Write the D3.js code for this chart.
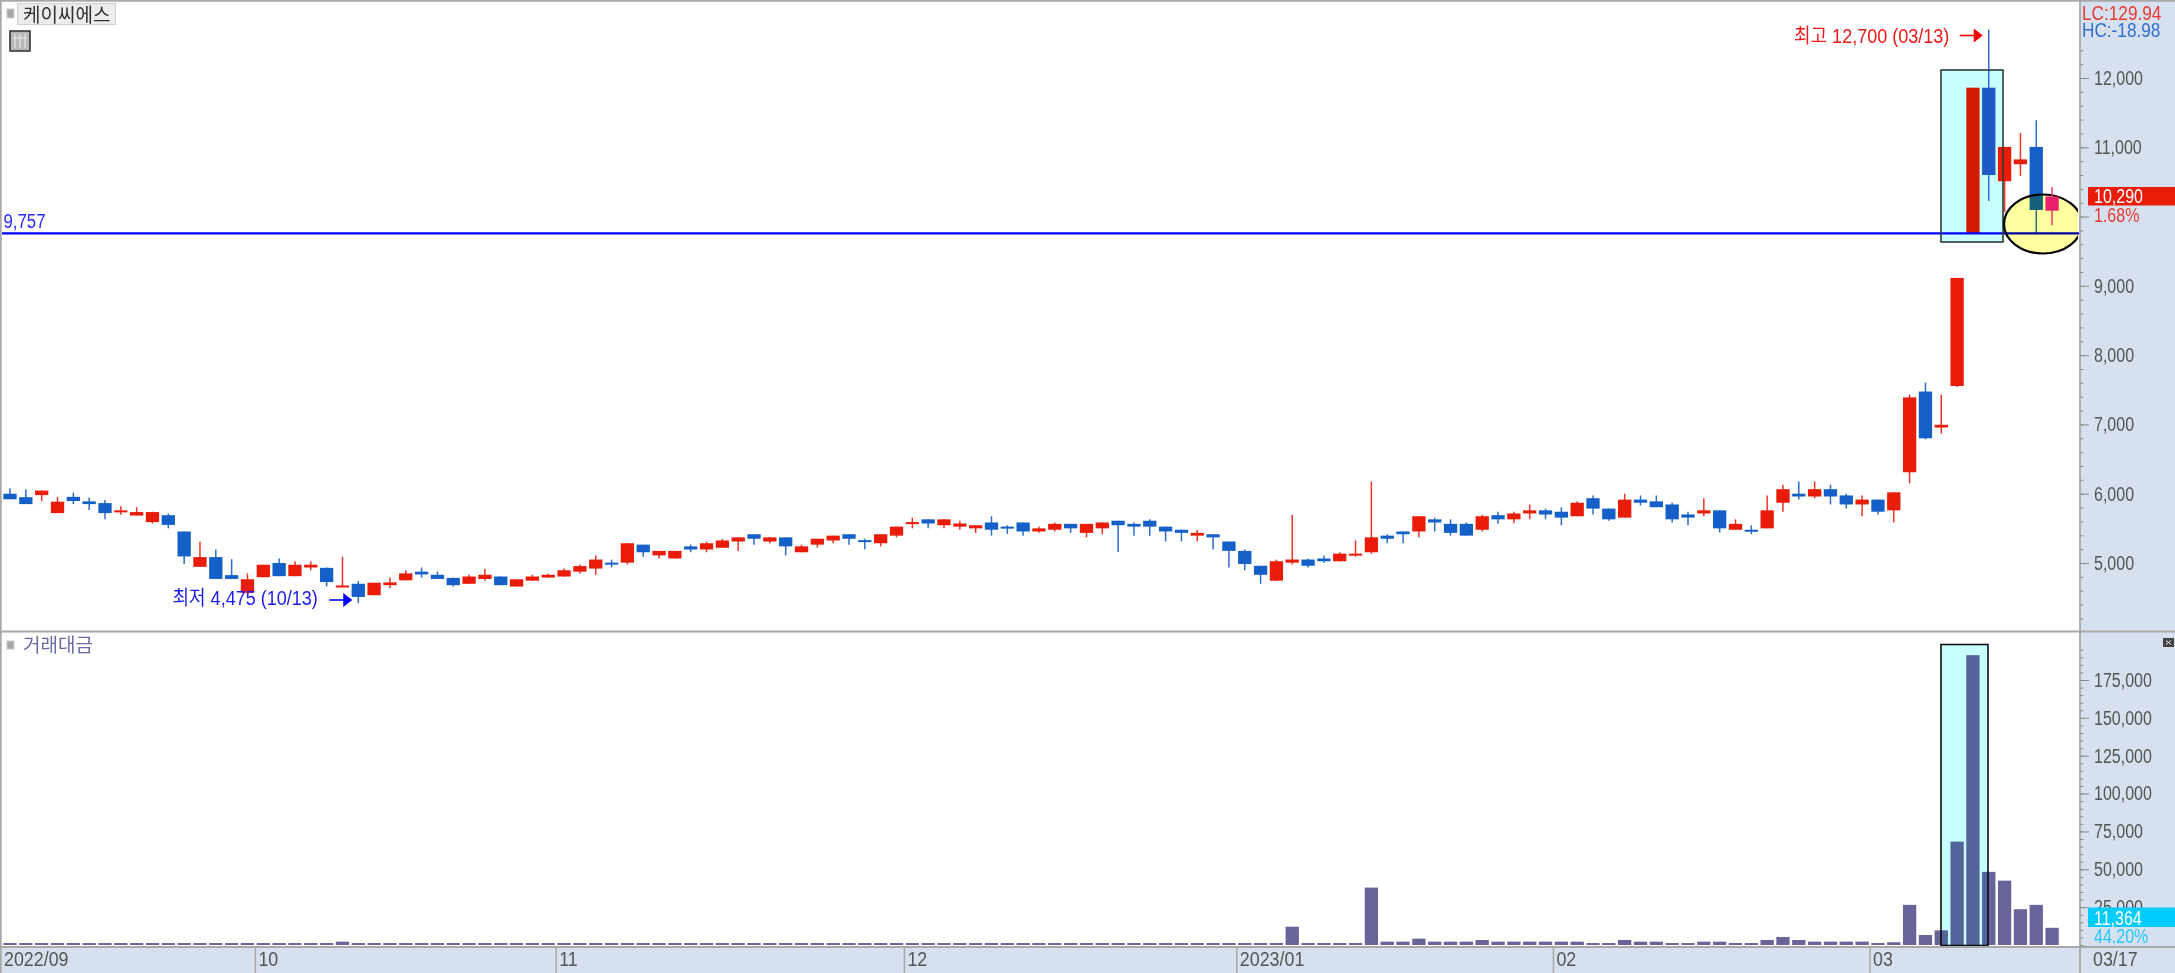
<!DOCTYPE html>
<html lang="ko">
<head>
<meta charset="utf-8">
<title>케이씨에스</title>
<script src="https://cdnjs.cloudflare.com/ajax/libs/d3/7.8.5/d3.min.js"></script>
<style>
html, body { margin: 0; padding: 0; background: #fff; overflow: hidden; }
text { font-family: "Liberation Sans", "Noto Sans CJK KR", sans-serif; font-size: 20px; }
.hangul { font-family: "Noto Sans CJK KR", sans-serif; font-size: 19px; }
.axis text { fill: #555; }
.axis line { stroke: #8c8c8c; }
.axis path { display: none; }
</style>
</head>
<body>
<div id="chart"></div>
<script>
var opens = [6000,5950,5980,5720,5955,5890,5865,5740,5685,5590,5690,5455,4945,5085,4825,4570,4795,5000,4810,4935,4930,4660,4700,4535,4680,4750,4875,4830,4785,4700,4770,4805,4660,4745,4790,4805,4875,4920,5005,5005,5265,5110,5065,5240,5195,5220,5310,5415,5310,5370,5155,5265,5325,5415,5330,5285,5395,5570,5630,5545,5525,5500,5585,5525,5585,5455,5480,5565,5435,5500,5610,5565,5610,5525,5480,5395,5415,5310,5175,4960,4745,5005,5050,5065,5025,5110,5155,5395,5455,5455,5630,5565,5565,5480,5690,5630,5715,5760,5740,5675,5935,5785,5655,5915,5890,5845,5700,5715,5760,5480,5480,5500,5870,6000,5960,6065,5975,5845,5915,5760,6310,7475,6955,7555,9760,11860,10510,10755,11005,10085]
var highs = [6080,6065,6045,5955,6015,5945,5910,5820,5805,5740,5715,5455,5310,5195,5055,4850,4975,5065,5025,5025,4935,5090,4740,4715,4790,4895,4935,4875,4790,4830,4917,4805,4765,4830,4850,4920,4980,5110,5050,5285,5265,5175,5175,5265,5310,5350,5370,5415,5370,5370,5265,5350,5395,5415,5350,5415,5525,5655,5630,5630,5610,5545,5675,5545,5585,5525,5585,5565,5565,5585,5610,5585,5630,5525,5480,5480,5415,5310,5195,4960,5050,5695,5065,5110,5155,5325,6175,5415,5455,5675,5655,5630,5585,5695,5740,5740,5845,5785,5805,5890,5975,5785,6000,5975,5975,5870,5740,5935,5760,5630,5545,5975,6130,6175,6175,6130,6000,5975,5915,6020,7430,7605,7430,9115,11860,12700,11005,11205,11390,10425]
var lows = [5920,5850,5895,5720,5850,5765,5630,5695,5685,5570,5500,4985,4945,4770,4770,4550,4795,4810,4810,4895,4660,4660,4420,4535,4635,4750,4790,4770,4660,4700,4745,4680,4660,4745,4790,4805,4850,4830,4935,4980,5090,5065,5065,5155,5155,5220,5175,5265,5285,5110,5155,5220,5285,5265,5195,5240,5370,5500,5500,5500,5480,5435,5395,5420,5395,5435,5455,5435,5370,5415,5160,5395,5395,5310,5310,5310,5195,4935,4895,4700,4745,4980,4935,5005,5025,5090,5135,5285,5285,5370,5455,5395,5395,5455,5565,5575,5630,5630,5545,5675,5700,5610,5655,5830,5805,5585,5545,5675,5440,5480,5415,5500,5740,5915,5935,5845,5785,5675,5700,5585,6150,6785,6870,7540,9760,10225,10065,10585,9760,9875]
var closes = [5920,5850,6045,5885,5895,5850,5720,5760,5735,5735,5550,5095,5085,4770,4770,4765,4975,4810,4975,4975,4725,4675,4510,4715,4720,4850,4835,4770,4680,4805,4830,4680,4765,4805,4830,4895,4955,5050,4980,5285,5155,5175,5175,5195,5285,5325,5370,5350,5370,5240,5240,5350,5395,5350,5310,5415,5525,5590,5570,5630,5570,5545,5480,5500,5455,5500,5565,5500,5565,5585,5545,5525,5525,5455,5435,5435,5370,5175,4985,4830,5025,5050,4960,5025,5135,5135,5370,5350,5415,5675,5585,5435,5395,5675,5630,5715,5760,5700,5655,5870,5785,5630,5915,5870,5805,5630,5655,5760,5500,5565,5460,5760,6065,5960,6065,5960,5845,5915,5740,6020,7390,6800,6995,9115,11860,10600,11005,10825,10095,10290]
var volumes = [1300,1300,1300,1300,1300,1300,1300,1300,1300,1300,1300,1300,1300,1300,1300,1300,1300,1300,1300,1300,1300,2200,1300,1300,1300,1300,1300,1300,1300,1300,1300,1300,1300,1300,1300,1300,1300,1300,1300,1300,1300,1300,1300,1300,1300,1300,1300,1300,1300,1300,1300,1300,1300,1300,1300,1300,1300,1300,1300,1300,1300,1300,1300,1300,1300,1300,1300,1300,1300,1300,1300,1300,1300,1300,1300,1300,1300,1300,1300,1300,1300,12100,1300,1300,1300,1300,37900,2200,2200,4200,2200,2200,2200,3300,2200,2200,2200,2200,2200,2200,1300,1300,3300,2200,2200,1300,1300,2200,2200,1300,1300,3300,5300,3300,2200,2200,2200,2200,1300,1800,26500,6600,9700,68300,191400,48300,42500,23600,26500,11364]

// 10,000 자리는 현재가 표시에 가려져 글자가 없다
var priceTicks = [5000,6000,7000,8000,9000,11000,12000]
var priceMinor = d3.range(4200, 12600, 200)
var volumeTicks = [25000,50000,75000,100000,125000,150000,175000]
var volumeMinor = d3.range(0, 200000, 5000)
var monthLabels = ["10","11","12","2023/01","02","03"]
var monthStarts = [16,35,57,78,98,118]
var firstLabel = "2022/09"
var lastLabel = "03/17"

var stockName = "케이씨에스"
var volumeName = "거래대금"
var levelPrice = 9757
var lowIndex = 22, highIndex = 125, lastIndex = 129

var width = 2175, height = 973
var plotRight = 2080, panelGap = 631.5, dateTop = 947

var svg = d3.select("#chart").append("svg")
    .attr("width", width).attr("height", height)
    .style("display", "block")

var xScale = d3.scaleBand()
    .domain(d3.range(opens.length))
    .range([2.1, 2060])
    .paddingInner(0.16)
    .paddingOuter(0.08)

var yPrice = d3.scaleLinear().domain([5000, 12000]).range([563, 78])
var yVolume = d3.scaleLinear().domain([0, 175000]).range([945, 680])

function center(i) {
    return xScale(i) + xScale.bandwidth() / 2
}

function isUp(i) {
    return closes[i] >= opens[i]
}

function candleColor(i) {
    if (i == lastIndex) return "#e8206c"
    if (i == 124) return "#d21a04"
    if (i == 125) return "#2058c8"
    return isUp(i) ? "#e81c08" : "#1460c8"
}

function wickColor(i) {
    if (i == lastIndex) return "#ea3a5c"
    return isUp(i) ? "#ee3424" : "#2a6ed0"
}

// 글꼴을 좁게 눌러서 원본 폭에 맞춘다
function narrow(sel, k) {
    sel.each(function () {
        var len = this.getComputedTextLength()
        d3.select(this).attr("textLength", len * k).attr("lengthAdjust", "spacingAndGlyphs")
    })
    return sel
}

svg.append("rect").attr("width", width).attr("height", height).attr("fill", "#fff")
svg.append("rect").attr("x", plotRight).attr("width", width - plotRight).attr("height", height).attr("fill", "#d6e0ee")
svg.append("rect").attr("y", dateTop).attr("width", width).attr("height", height - dateTop).attr("fill", "#d6e0ee")

// 상단 박스는 봉 뒤에
svg.append("rect")
    .attr("x", 1941).attr("y", 70).attr("width", 62).attr("height", 172)
    .attr("fill", "#c8ffff")

drawCandles(d3.range(opens.length).filter(function (i) { return i != lastIndex }))

// 지지선
svg.append("line")
    .attr("x1", 2).attr("x2", plotRight - 1)
    .attr("y1", yPrice(levelPrice)).attr("y2", yPrice(levelPrice))
    .attr("stroke", "#0000ff").attr("stroke-width", 2.4)
narrow(svg.append("text")
    .attr("x", 3.5).attr("y", yPrice(levelPrice) - 12).attr("dy", "0.35em")
    .attr("fill", "#2a2aff").text(d3.format(",")(levelPrice)), 0.84)

svg.append("rect")
    .attr("x", 1941).attr("y", 70).attr("width", 62).attr("height", 172)
    .attr("fill", "none").attr("stroke", "#303838").attr("stroke-width", 1.6)

// 노란 원
svg.append("clipPath").attr("id", "plotClip")
    .append("rect").attr("width", plotRight - 2).attr("height", panelGap)
svg.append("ellipse")
    .attr("cx", 2043).attr("cy", 224).attr("rx", 39).attr("ry", 29.5)
    .attr("fill", "#ffffa0").attr("stroke", "#000").attr("stroke-width", 2.2)
    .attr("clip-path", "url(#plotClip)")
    .style("mix-blend-mode", "multiply")

drawCandles([lastIndex])

drawVolume()
drawAxes()
drawLabels()

function drawCandles(index) {
    var g = svg.append("g")

    g.selectAll(".wick").data(index).enter().append("line").classed("wick", true)
        .attr("x1", center).attr("x2", center)
        .attr("y1", function (i) { return yPrice(highs[i]) })
        .attr("y2", function (i) { return yPrice(lows[i]) })
        .attr("stroke", wickColor)
        .attr("stroke-width", 1.5)

    g.selectAll(".body").data(index).enter().append("rect").classed("body", true)
        .attr("x", function (i) { return xScale(i) })
        .attr("width", xScale.bandwidth())
        .attr("y", function (i) { return yPrice(Math.max(opens[i], closes[i])) })
        .attr("height", function (i) {
            return Math.max(2, Math.abs(yPrice(opens[i]) - yPrice(closes[i])))
        })
        .attr("fill", candleColor)
}

function drawVolume() {
    var g = svg.append("g")

    g.selectAll("rect").data(volumes).enter().append("rect")
        .attr("x", function (d, i) { return xScale(i) })
        .attr("width", xScale.bandwidth())
        .attr("y", function (d) { return yVolume(d) })
        .attr("height", function (d) { return yVolume(0) - yVolume(d) })
        .attr("fill", "#68649a")

    svg.append("rect")
        .attr("x", 1941).attr("y", 644.5).attr("width", 47).attr("height", 301)
        .attr("fill", "#c8ffff").attr("stroke", "#101010").attr("stroke-width", 1.6)
        .style("mix-blend-mode", "multiply")
}

function drawAxes() {
    // 패널 테두리
    var borders = [[0.8, 0, 0.8, height], [0, 0.8, width, 0.8], [plotRight, 0, plotRight, height],
        [0, panelGap, width, panelGap], [0, dateTop, width, dateTop]]
    svg.append("g").selectAll("line").data(borders).enter().append("line")
        .attr("x1", function (d) { return d[0] }).attr("y1", function (d) { return d[1] })
        .attr("x2", function (d) { return d[2] }).attr("y2", function (d) { return d[3] })
        .attr("stroke", "#a8a8a8").attr("stroke-width", 1.8)

    svg.append("g").attr("class", "axis").attr("transform", "translate(" + [plotRight, 0] + ")")
        .call(d3.axisRight(yPrice).tickValues(priceMinor).tickSize(3.5).tickFormat(""))
    svg.append("g").attr("class", "axis").attr("transform", "translate(" + [plotRight, 0] + ")")
        .call(d3.axisRight(yVolume).tickValues(volumeMinor).tickSize(3.5).tickFormat(""))
    // 10,000 눈금선만
    svg.append("g").attr("class", "axis").attr("transform", "translate(" + [plotRight, 0] + ")")
        .call(d3.axisRight(yPrice).tickValues([10000]).tickSize(9).tickFormat(""))

    var priceAxis = svg.append("g").attr("class", "axis")
        .attr("transform", "translate(" + [plotRight, 0] + ")")
        .call(d3.axisRight(yPrice).tickValues(priceTicks).tickSize(9).tickPadding(5).tickFormat(d3.format(",")))
    narrow(priceAxis.selectAll("text"), 0.8)

    var volumeAxis = svg.append("g").attr("class", "axis")
        .attr("transform", "translate(" + [plotRight, 0] + ")")
        .call(d3.axisRight(yVolume).tickValues(volumeTicks).tickSize(9).tickPadding(5).tickFormat(d3.format(",")))
    narrow(volumeAxis.selectAll("text"), 0.8)

    // 월 구분
    var gap = xScale.step() - xScale.bandwidth()
    var months = svg.append("g").selectAll("g").data(monthStarts).enter().append("g")
        .attr("transform", function (d) { return "translate(" + [xScale(d) - gap / 2, 0] + ")" })
    months.append("line")
        .attr("y1", dateTop).attr("y2", height)
        .attr("stroke", "#a8a8a8").attr("stroke-width", 1.5)
    narrow(months.append("text")
        .attr("x", 3).attr("y", 959).attr("dy", "0.35em").attr("fill", "#555")
        .style("font-size", "21px")
        .text(function (d, i) { return monthLabels[i] }), 0.85)

    narrow(svg.append("text").attr("x", 4).attr("y", 959).attr("dy", "0.35em").attr("fill", "#555")
        .style("font-size", "21px").text(firstLabel), 0.85)
    narrow(svg.append("text").attr("x", 2093).attr("y", 959).attr("dy", "0.35em").attr("fill", "#555")
        .style("font-size", "21px").text(lastLabel), 0.85)
}

function arrow(tipX, y, color) {
    var p = d3.path()
    p.moveTo(tipX - 23, y)
    p.lineTo(tipX - 8, y)
    svg.append("path").attr("d", p.toString()).attr("stroke", color).attr("stroke-width", 1.6).attr("fill", "none")
    var t = d3.path()
    t.moveTo(tipX, y)
    t.lineTo(tipX - 9, y - 7)
    t.lineTo(tipX - 9, y + 7)
    t.closePath()
    svg.append("path").attr("d", t.toString()).attr("fill", color)
}

function valueText(x, y, color, label) {
    return narrow(svg.append("text").attr("x", x).attr("y", y).attr("dy", "0.35em").attr("fill", color).text(label), 0.8)
}

function drawLabels() {
    var tag = svg.append("g")

    // 종목명
    tag.append("rect").attr("x", 7).attr("y", 9).attr("width", 7).attr("height", 9).attr("fill", "#a8a8a8").attr("stroke", "#ccc")
    tag.append("rect").attr("x", 17.5).attr("y", 3.5).attr("width", 98).attr("height", 21).attr("fill", "#ececec").attr("stroke", "#d0d0d0")
    tag.append("text").attr("class", "hangul").attr("x", 23).attr("y", 15).attr("dy", "0.35em").attr("fill", "#303030").text(stockName)

    // 표 아이콘
    var icon = svg.append("g").attr("transform", "translate(10,31)")
    icon.append("rect").attr("width", 20).attr("height", 20).attr("fill", "#b8b8b8").attr("stroke", "#202020").attr("stroke-width", 1.4)
    icon.selectAll("line").data([5, 10, 15]).enter().append("line")
        .attr("x1", function (d) { return d }).attr("x2", function (d) { return d })
        .attr("y1", 3).attr("y2", 17).attr("stroke", "#f0f0f0")
    icon.append("line").attr("x1", 3).attr("x2", 17).attr("y1", 7).attr("y2", 7).attr("stroke", "#f0f0f0")

    // 거래대금
    tag.append("rect").attr("x", 7).attr("y", 641).attr("width", 7).attr("height", 8).attr("fill", "#a8a8a8").attr("stroke", "#ccc")
    tag.append("text").attr("class", "hangul").attr("x", 23).attr("y", 645).attr("dy", "0.35em").attr("fill", "#6a6aa2").text(volumeName)

    // 최고 / 최저
    narrow(svg.append("text").attr("x", 1794).attr("y", 35.5).attr("dy", "0.35em")
        .attr("fill", "#f01818").text("최고 12,700 (03/13)"), 0.9)
    arrow(center(highIndex) - 6, 35.5, "#ff0000")

    narrow(svg.append("text").attr("x", 172.5).attr("y", 598).attr("dy", "0.35em")
        .attr("fill", "#1c1cf0").text("최저 4,475 (10/13)"), 0.9)
    arrow(center(lowIndex) - 6, 600, "#0000ff")

    // 오른쪽 값 표시
    narrow(svg.append("text").attr("x", 2082).attr("y", 13).attr("dy", "0.35em").attr("fill", "#e83a30").text("LC:129.94"), 0.86)
    narrow(svg.append("text").attr("x", 2082).attr("y", 30).attr("dy", "0.35em").attr("fill", "#3070d0").text("HC:-18.98"), 0.86)

    svg.append("rect").attr("x", 2088).attr("y", 187).attr("width", 87).attr("height", 18.5).attr("fill", "#e81c08")
    valueText(2094, 196, "#fff", d3.format(",")(closes[lastIndex]))
    valueText(2094, 215, "#e83a30", "1.68%")

    svg.append("rect").attr("x", 2088).attr("y", 907.5).attr("width", 87).attr("height", 19.5).attr("fill", "#00ccff")
    valueText(2094, 917.5, "#fff", d3.format(",")(volumes[lastIndex]))
    valueText(2094, 936, "#22c8ff", "44.20%")

    // 닫기 버튼
    var btn = svg.append("g").attr("transform", "translate(2163,638)")
    btn.append("rect").attr("width", 11).attr("height", 9).attr("fill", "#444")
    btn.append("path").attr("d", "M3,2.5L8,6.5M8,2.5L3,6.5").attr("stroke", "#eee").attr("stroke-width", 1)
}
</script>
</body>
</html>
